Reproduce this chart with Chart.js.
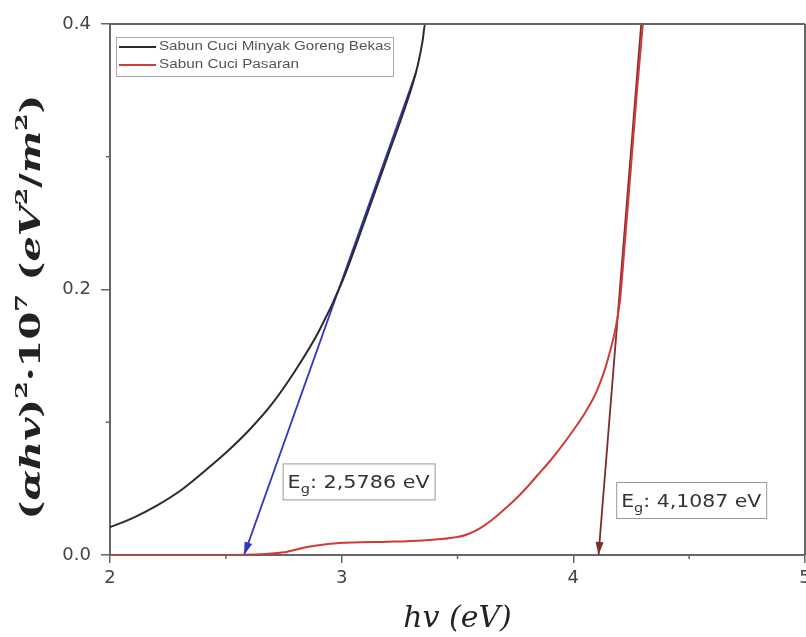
<!DOCTYPE html>
<html>
<head>
<meta charset="utf-8">
<script src="https://cdn.jsdelivr.net/npm/chart.js@4/dist/chart.umd.min.js"></script>
<style>
  html, body { margin: 0; padding: 0; background: #fff; }
  #wrap { width: 806px; height: 637px; }
</style>
</head>
<body>
<div id="wrap"><canvas id="myChart" width="806" height="637"></canvas></div>
<script>
// black: used cooking oil soap
const blackX = [2.0, 2.1, 2.2, 2.3, 2.4, 2.5, 2.6, 2.7, 2.8, 2.9, 3.0, 3.1, 3.2, 3.3, 3.33, 3.35, 3.36, 3.40];
const blackY = [0.021, 0.028, 0.037, 0.048, 0.062, 0.077, 0.094, 0.114, 0.139, 0.168, 0.205, 0.252, 0.301, 0.351, 0.370, 0.388, 0.40, 0.40];

// red: market soap
const redX = [2.0, 2.5, 2.65, 2.75, 2.85, 2.95, 3.05, 3.2, 3.35, 3.5, 3.55, 3.6, 3.65, 3.7, 3.75, 3.8, 3.85, 3.9, 3.95, 4.0, 4.05, 4.1, 4.15, 4.2, 4.22, 4.25, 4.275, 4.30];
const redY = [0, 0, 0.0005, 0.002, 0.006, 0.0085, 0.0095, 0.010, 0.011, 0.0135, 0.016, 0.0205, 0.0265, 0.034, 0.042, 0.051, 0.061, 0.071, 0.082, 0.094, 0.107, 0.123, 0.148, 0.19, 0.23, 0.295, 0.35, 0.40];

// tangent lines (start at the top, end on the axis = band gap)
const blueTanX = [3.32, 2.5786];
const blueTanY = [0.363, 0];
const redTanX = [4.293, 4.1087];
const redTanY = [0.40, 0];

const gapLabels = ['2,5786', '4,1087'];
const seriesNames = ['Sabun Cuci Minyak Goreng Bekas', 'Sabun Cuci Pasaran'];

const xMajor = [2, 3, 4, 5];
const yMajor = [0, 0.2, 0.4];

const pts = (xs, ys) => xs.map((x, i) => ({ x: x, y: ys[i] }));

const AXIS = '#666';
const SANS = '"DejaVu Sans", sans-serif';

const boxPlugin = {
  id: 'box',
  afterDraw(chart) {
    const ctx = chart.ctx;
    const a = chart.chartArea;
    const xs = chart.scales.x, ys = chart.scales.y;
    ctx.save();
    ctx.strokeStyle = AXIS;
    ctx.lineWidth = 2;
    ctx.beginPath();
    ctx.moveTo(a.left, a.top); ctx.lineTo(a.right, a.top);
    ctx.moveTo(a.right, a.top); ctx.lineTo(a.right, a.bottom);
    ctx.stroke();
    // minor ticks
    ctx.lineWidth = 1.5;
    ctx.beginPath();
    [2.5, 3.5, 4.5].forEach(v => {
      const px = xs.getPixelForValue(v);
      ctx.moveTo(px, a.bottom); ctx.lineTo(px, a.bottom + 4);
    });
    [0.1, 0.3].forEach(v => {
      const py = ys.getPixelForValue(v);
      ctx.moveTo(a.left, py); ctx.lineTo(a.left - 4, py);
    });
    ctx.stroke();

    // arrow heads at the tangent ends
    const head = (xArr, yArr, color) => {
      const x1 = xs.getPixelForValue(xArr[0]), y1 = ys.getPixelForValue(yArr[0]);
      const x2 = xs.getPixelForValue(xArr[1]), y2 = ys.getPixelForValue(yArr[1]);
      const ang = Math.atan2(y2 - y1, x2 - x1);
      const len = 13, w = 4;
      ctx.fillStyle = color;
      ctx.beginPath();
      ctx.moveTo(x2, y2);
      ctx.lineTo(x2 - len * Math.cos(ang) + w * Math.sin(ang), y2 - len * Math.sin(ang) - w * Math.cos(ang));
      ctx.lineTo(x2 - len * Math.cos(ang) - w * Math.sin(ang), y2 - len * Math.sin(ang) + w * Math.cos(ang));
      ctx.closePath();
      ctx.fill();
    };
    head(blueTanX, blueTanY, '#3434c8');
    head(redTanX, redTanY, '#7a2e2e');

    // band gap labels, text stretched to fill its box
    const gapBox = (xv, yv, txt, boxW) => {
      const bx = xs.getPixelForValue(xv), by = ys.getPixelForValue(yv);
      const rest = ': ' + txt + ' eV';
      ctx.font = '17px ' + SANS;
      const wE = ctx.measureText('E').width, wR = ctx.measureText(rest).width;
      ctx.font = '12px ' + SANS;
      const wG = ctx.measureText('g').width;
      const natural = wE + wG + wR;
      ctx.save();
      ctx.translate(bx + 5, by + 25);
      ctx.scale((boxW - 10) / natural, 1);
      ctx.fillStyle = '#333';
      ctx.textBaseline = 'alphabetic';
      ctx.font = '17px ' + SANS;
      ctx.fillText('E', 0, 0);
      ctx.font = '12px ' + SANS;
      ctx.fillText('g', wE, 5);
      ctx.font = '17px ' + SANS;
      ctx.fillText(rest, wE + wG, 0);
      ctx.restore();
      ctx.strokeStyle = '#999';
      ctx.lineWidth = 1;
      ctx.strokeRect(bx + 0.5, by + 0.5, boxW, 36);
    };
    gapBox(2.745, 0.069, gapLabels[0], 152);
    gapBox(4.185, 0.055, gapLabels[1], 150);

    // legend
    const lx = a.left + 6, ly = a.top + 13;
    ctx.strokeStyle = '#aaa';
    ctx.lineWidth = 1;
    ctx.strokeRect(lx + 0.5, ly + 0.5, 277, 39);
    ctx.font = '12px "Liberation Sans", Arial, sans-serif';
    ctx.textBaseline = 'middle';
    [0, 1].forEach(i => {
      const ds = chart.data.datasets[i];
      const yy = ly + 10 + i * 18;
      ctx.strokeStyle = ds.borderColor;
      ctx.lineWidth = 2;
      ctx.beginPath();
      ctx.moveTo(lx + 3, yy); ctx.lineTo(lx + 40, yy);
      ctx.stroke();
      ctx.fillStyle = '#555';
      ctx.save();
      ctx.translate(lx + 43, yy);
      const w = ctx.measureText(ds.label).width;
      const target = i === 0 ? 232 : 140;
      ctx.scale(target / w, 1);
      ctx.fillText(ds.label, 0, 0);
      ctx.restore();
    });

    // y axis title with superscripts
    const segs = [
      ['(', 'bold', 0], ['αhv', 'italic bold', 0], [')', 'bold', 0], ['2', 'bold', 1],
      ['·10', 'bold', 0], ['7', 'bold', 1], [' (', 'bold', 0], ['eV', 'italic bold', 0],
      ['2', 'bold', 1], ['/', 'bold', 0], ['m', 'italic bold', 0], ['2', 'bold', 1], [')', 'bold', 0]
    ];
    const fontFor = s => s[1] + ' ' + (s[2] ? 17 : 27) + 'px "DejaVu Serif", serif';
    let total = 0;
    segs.forEach(s => { ctx.font = fontFor(s); total += ctx.measureText(s[0]).width; });
    const target = 425;
    ctx.translate(33, 307);
    ctx.rotate(-Math.PI / 2);
    ctx.scale(target / total, 1);
    ctx.fillStyle = '#222';
    ctx.textBaseline = 'middle';
    let px = -total / 2;
    segs.forEach(s => {
      ctx.font = fontFor(s);
      ctx.fillText(s[0], px, s[2] ? -10 : 0);
      px += ctx.measureText(s[0]).width;
    });
    ctx.restore();
  }
};

const ctx = document.getElementById('myChart').getContext('2d');
new Chart(ctx, {
  type: 'scatter',
  data: {
    datasets: [
      {
        label: seriesNames[0],
        data: pts(blackX, blackY),
        showLine: true,
        borderColor: '#2b2b2b',
        borderWidth: 2,
        pointRadius: 0,
        cubicInterpolationMode: 'monotone'
      },
      {
        label: seriesNames[1],
        data: pts(redX, redY),
        showLine: true,
        borderColor: '#d23a3a',
        borderWidth: 2,
        pointRadius: 0,
        cubicInterpolationMode: 'monotone'
      },
      {
        label: 'tangent 1',
        data: pts(blueTanX, blueTanY),
        showLine: true,
        borderColor: '#3434c8',
        borderWidth: 1.8,
        pointRadius: 0
      },
      {
        label: 'tangent 2',
        data: pts(redTanX, redTanY),
        showLine: true,
        borderColor: '#7a2e2e',
        borderWidth: 1.8,
        pointRadius: 0
      }
    ]
  },
  options: {
    responsive: false,
    animation: false,
    layout: { padding: { top: 24, right: 1, left: 0, bottom: 0 } },
    plugins: { legend: { display: false }, tooltip: { enabled: false } },
    scales: {
      x: {
        type: 'linear',
        min: 2, max: 5,
        afterFit(s) { s.height = 82; s.paddingLeft = 0; s.paddingRight = 0; },
        ticks: {
          stepSize: 0.5,
          padding: 5,
          color: '#444',
          font: { family: SANS, size: 18 },
          callback: v => xMajor.includes(v) ? String(v) : ''
        },
        grid: {
          drawOnChartArea: false,
          tickLength: 8,
          lineWidth: 1.5,
          color: c => (c.tick && xMajor.includes(c.tick.value)) ? AXIS : 'rgba(0,0,0,0)'
        },
        border: { color: AXIS, width: 2 },
        title: {
          display: true,
          text: 'hv (eV)',
          color: '#222',
          font: { family: '"DejaVu Serif", serif', size: 30, style: 'italic' },
          padding: { top: 2, bottom: 0 }
        }
      },
      y: {
        type: 'linear',
        min: 0, max: 0.4,
        afterFit(s) { s.width = 110; s.paddingTop = 0; s.paddingBottom = 0; },
        ticks: {
          stepSize: 0.1,
          padding: 10,
          color: '#444',
          font: { family: SANS, size: 18 },
          callback: v => yMajor.some(m => Math.abs(m - v) < 1e-9) ? v.toFixed(1) : ''
        },
        grid: {
          drawOnChartArea: false,
          tickLength: 9,
          lineWidth: 1.5,
          color: c => (c.tick && yMajor.some(m => Math.abs(m - c.tick.value) < 1e-9)) ? AXIS : 'rgba(0,0,0,0)'
        },
        border: { color: AXIS, width: 2 },
        title: { display: false }
      }
    }
  },
  plugins: [boxPlugin]
});
</script>
</body>
</html>
